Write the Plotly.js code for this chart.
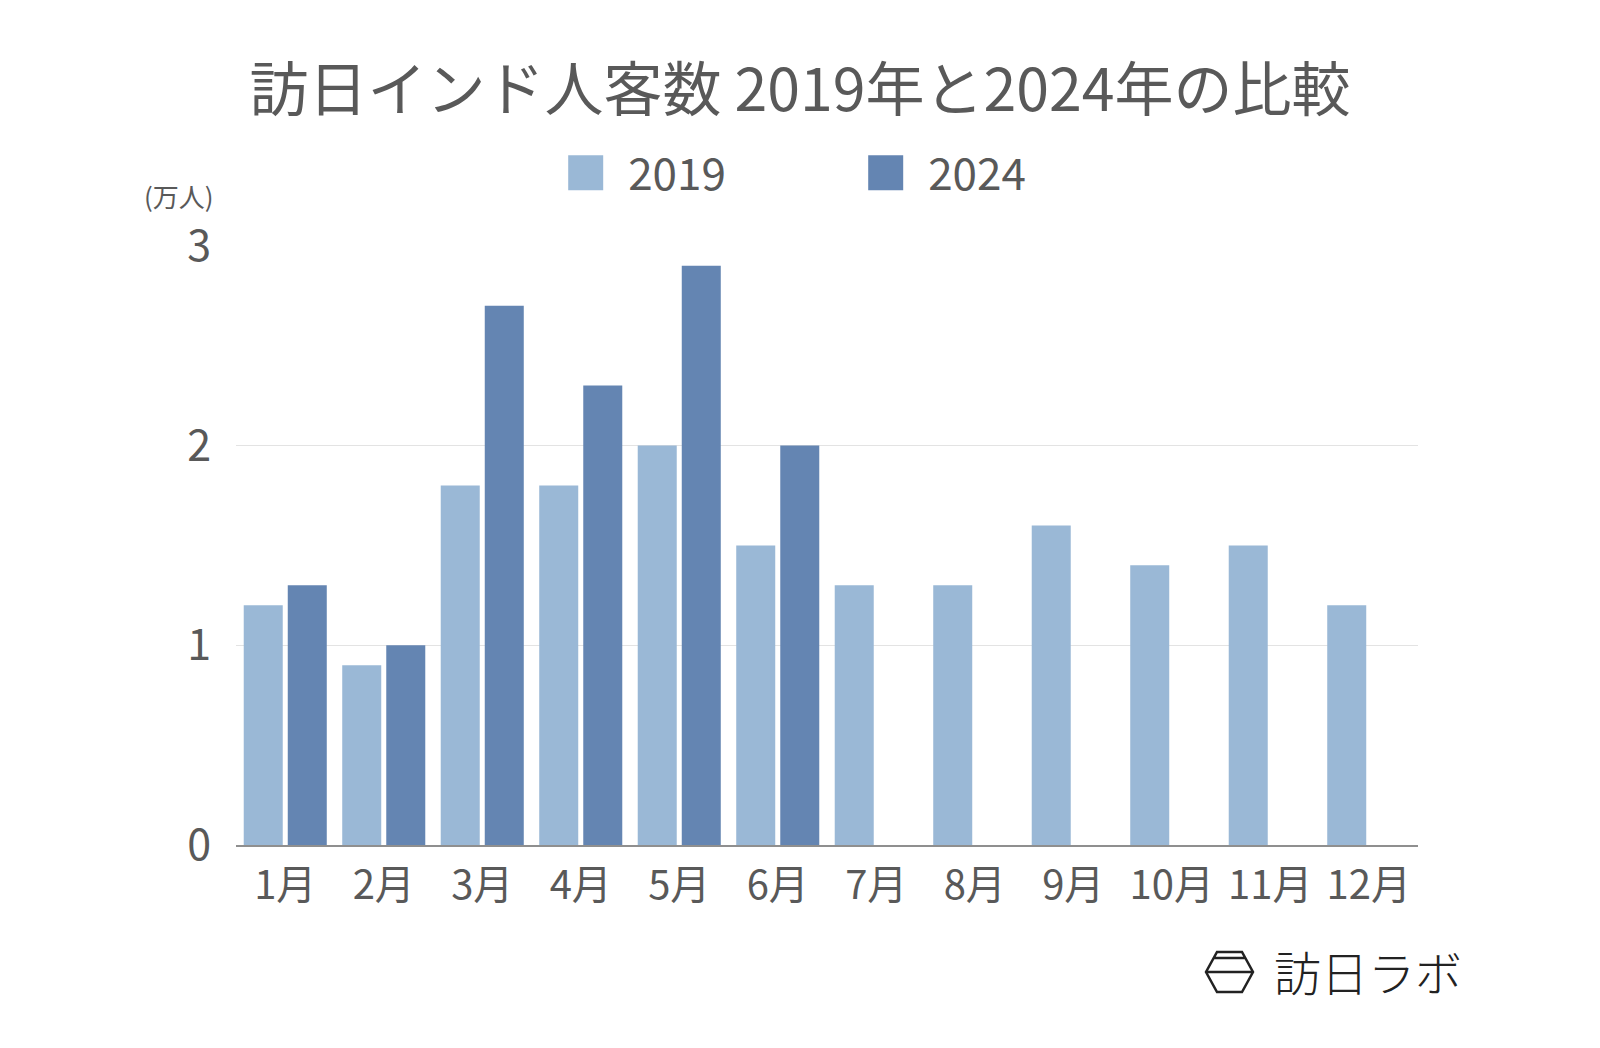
<!DOCTYPE html>
<html>
<head>
<meta charset="utf-8">
<script src="https://cdn.plot.ly/plotly-3.0.1.min.js"></script>
<style>
  html, body { margin: 0; padding: 0; background: #fff; }
  #chart { width: 1600px; height: 1048px; }
</style>
</head>
<body>
<div id="chart"></div>
<script>
// 訪日インド人客数 (万人)
const months = ['1月', '2月', '3月', '4月', '5月', '6月', '7月', '8月', '9月', '10月', '11月', '12月'];
const visitors2019 = [1.2, 0.9, 1.8, 1.8, 2.0, 1.5, 1.3, 1.3, 1.6, 1.4, 1.5, 1.2];
const visitors2024 = [1.3, 1.0, 2.7, 2.3, 2.9, 2.0];
const yTicks = [0, 1, 2, 3];

const FONT = '"Noto Sans CJK JP", "Noto Sans", sans-serif';
const TEXT_COLOR = '#595959';
const COLOR_2019 = '#9ab8d6';
const COLOR_2024 = '#6485b2';

// plot area in pixels (used only to place the logo drawing)
const PLOT = { left: 236, right: 1418, top: 245, bottom: 845 };
const px = x => (x - PLOT.left) / (PLOT.right - PLOT.left);
const py = y => (PLOT.bottom - y) / (PLOT.bottom - PLOT.top);

function hexLogoPath() {
    const pts = [[1217, 952], [1242, 952], [1253, 972], [1242, 992], [1217, 992], [1206, 972]];
    let d = pts.map((p, i) => (i ? 'L' : 'M') + px(p[0]) + ',' + py(p[1])).join(' ') + ' Z';
    d += ' M' + px(1206) + ',' + py(972) + ' L' + px(1253) + ',' + py(972);
    d += ' M' + px(1214) + ',' + py(958) + ' L' + px(1245) + ',' + py(958);
    return d;
}

const traces = [
    {
        type: 'bar',
        name: '2019',
        x: months,
        y: visitors2019,
        marker: { color: COLOR_2019 },
        hoverinfo: 'x+y+name'
    },
    {
        type: 'bar',
        name: '2024',
        x: months.slice(0, visitors2024.length),
        y: visitors2024,
        marker: { color: COLOR_2024 },
        hoverinfo: 'x+y+name'
    }
];

const layout = {
    width: 1600,
    height: 1048,
    paper_bgcolor: '#fff',
    plot_bgcolor: '#fff',
    font: { family: FONT, color: TEXT_COLOR },
    margin: { l: PLOT.left, r: 1600 - PLOT.right, t: PLOT.top, b: 1048 - PLOT.bottom, pad: 0 },
    title: {
        text: '訪日インド人客数 2019年と2024年の比較',
        font: { family: FONT, size: 59, color: TEXT_COLOR },
        x: 0.5,
        xref: 'container',
        xanchor: 'center',
        y: 1 - 90 / 1048,
        yref: 'container',
        yanchor: 'middle'
    },
    barmode: 'group',
    bargap: 0.106,
    bargroupgap: 0.114,
    showlegend: true,
    legend: {
        orientation: 'h',
        xref: 'container',
        yref: 'container',
        x: 0.527,
        xanchor: 'center',
        y: 1 - 173 / 1048,
        yanchor: 'middle',
        font: { family: FONT, size: 44, color: TEXT_COLOR },
        itemwidth: 75,
        entrywidth: 210,
        traceorder: 'normal'
    },
    xaxis: {
        type: 'category',
        categoryorder: 'array',
        categoryarray: months,
        showgrid: false,
        showline: true,
        linecolor: '#8f8f8f',
        linewidth: 1.5,
        ticks: '',
        ticklabelstandoff: 4,
        tickfont: { family: FONT, size: 40, color: TEXT_COLOR },
        fixedrange: true
    },
    yaxis: {
        range: [0, 3.004],
        tickmode: 'array',
        tickvals: yTicks,
        ticktext: yTicks.map(String),
        showgrid: true,
        gridcolor: '#e3e3e3',
        gridwidth: 1,
        zeroline: false,
        showline: false,
        ticks: '',
        ticklabelstandoff: 24,
        tickfont: { family: FONT, size: 43, color: TEXT_COLOR },
        fixedrange: true
    },
    annotations: [
        {
            text: '(万人)',
            xref: 'paper', yref: 'paper',
            x: px(179), y: py(196),
            xanchor: 'center', yanchor: 'middle',
            showarrow: false,
            borderpad: 0,
            font: { family: FONT, size: 26, color: TEXT_COLOR }
        },
        {
            text: '訪日ラボ',
            xref: 'paper', yref: 'paper',
            x: px(1272), y: py(970),
            xanchor: 'left', yanchor: 'middle',
            showarrow: false,
            font: { family: FONT, size: 47, color: '#222', weight: 300 }
        }
    ],
    shapes: [
        {
            type: 'path',
            xref: 'paper', yref: 'paper',
            path: hexLogoPath(),
            line: { color: '#222', width: 2.5 },
            fillcolor: 'rgba(0,0,0,0)'
        }
    ]
};

Plotly.newPlot('chart', traces, layout, { displayModeBar: false, staticPlot: true }).then(gd => {
    // enlarge the legend squares and put them 25px left of their labels
    gd.querySelectorAll('.legend .traces').forEach(item => {
        const sym = item.querySelector('.legendpoints path');
        const txt = item.querySelector('text.legendtext');
        if (!sym || !txt) return;
        sym.setAttribute('d', 'M17.5,17.5H-17.5V-17.5H17.5Z');
        sym.removeAttribute('transform');
        const s = sym.getBoundingClientRect();
        const t = txt.getBoundingClientRect();
        const dx = (t.left - 25) - s.right;
        const dy = (t.top + t.height / 2) - (s.top + s.height / 2) + 2;
        sym.setAttribute('transform', 'translate(' + dx + ',' + dy + ')');
    });
});
</script>
</body>
</html>
